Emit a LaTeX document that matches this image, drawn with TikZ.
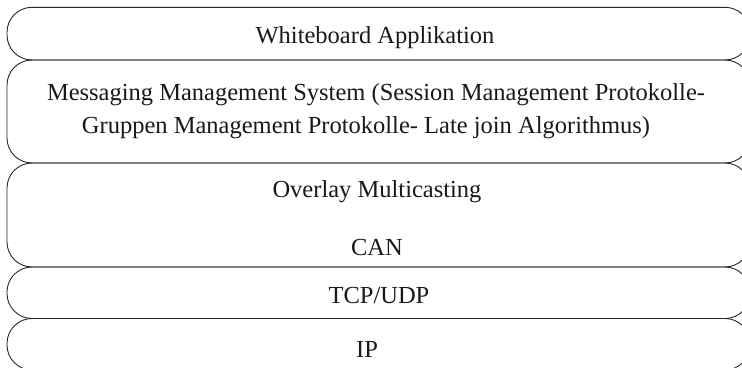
\documentclass[tikz,border=0pt]{standalone}
\usepackage{fontspec}
\setmainfont{Liberation Serif}
\begin{document}
\begin{tikzpicture}[x=1pt,y=-1pt,
  layer/.style={draw=black!85, line width=0.9pt, rounded corners=25pt, inner sep=0pt},
  lbl/.style={anchor=base, inner sep=0pt, text=black!90, font=\fontsize{24.5}{29}\selectfont}]
  \useasboundingbox (0,0) rectangle (742,367);
  % protocol stack layers, bottom to top
  \draw[layer] (7,318.5) rectangle (750,370);
  \draw[layer] (7,267) rectangle (750,318.5);
  \draw[layer] (7,163) rectangle (750,267);
  \draw[layer] (7,60) rectangle (750,163);
  \draw[layer] (7,7.3) rectangle (750,60);
  % layer labels
  \node[lbl] (app) at (375,43) {Whiteboard Applikation};
  \node[lbl] (mms1) at (376,100) {Messaging Management System (Session Management Protokolle-};
  \node[lbl] (mms2) at (366,133) {Gruppen Management Protokolle- Late join Algorithmus)};
  \node[lbl] (ovl) at (377,197) {Overlay Multicasting};
  \node[lbl] (can) at (377,255) {CAN};
  \node[lbl] (tcp) at (379,303) {TCP/UDP};
  \node[lbl] (ip) at (367,357) {IP};
\end{tikzpicture}
\end{document}
